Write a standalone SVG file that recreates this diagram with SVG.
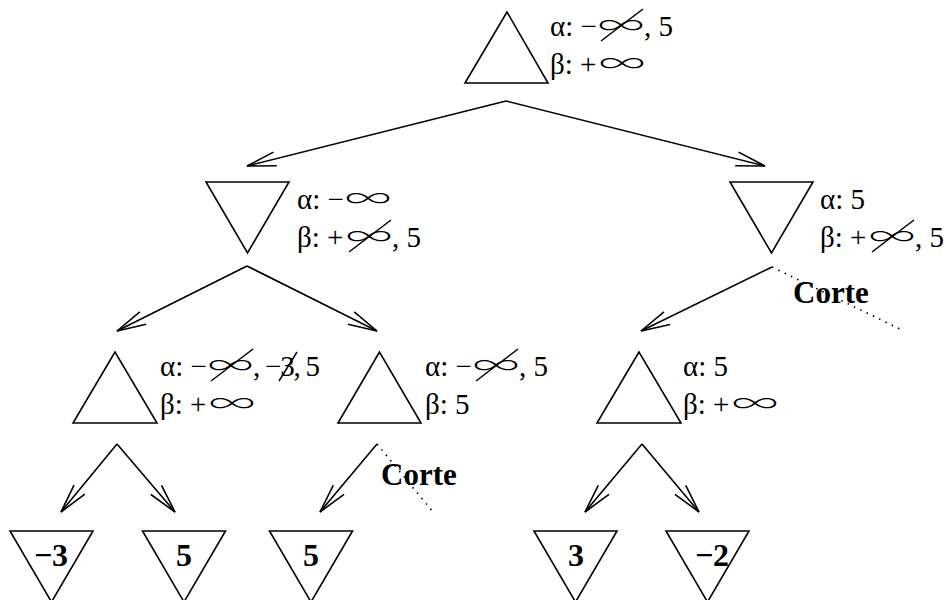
<svg xmlns="http://www.w3.org/2000/svg" width="946" height="600" viewBox="0 0 946 600">
<style>
.tri{fill:none;stroke:#000;stroke-width:1.6;stroke-linejoin:miter}
.lbl{font-family:"Liberation Serif","Times New Roman",serif;font-size:29px;fill:#000}
.inf{font-family:"Noto Sans CJK JP","Noto Sans",sans-serif;font-size:26px;font-weight:300;fill:#000}
.val{font-family:"Liberation Serif","Times New Roman",serif;font-size:32px;font-weight:bold;fill:#000;text-anchor:middle}
.cut{font-family:"Liberation Serif","Times New Roman",serif;font-size:31px;font-weight:bold;fill:#000}
.slash{stroke:#000;stroke-width:1.5}
.edge{fill:none;stroke:#000;stroke-width:1.6;marker-end:url(#ah)}
.dot{fill:none;stroke:#000;stroke-width:1.6;stroke-dasharray:1.5 5.5}
</style>
<defs>
<marker id="ah" markerUnits="userSpaceOnUse" markerWidth="40" markerHeight="20" viewBox="-32 -10 34 20" refX="0" refY="0" orient="auto" overflow="visible">
<path d="M-29,-7 L0,0 L-29,7" fill="none" stroke="#000" stroke-width="1.6"/>
</marker>
</defs>

<g id="connectors">
<line class="edge" x1="506" y1="101" x2="247" y2="166"/>
<line class="edge" x1="506" y1="101" x2="765" y2="166"/>
<line class="edge" x1="247" y1="266" x2="117" y2="331"/>
<line class="edge" x1="247" y1="266" x2="377" y2="331"/>
<line class="edge" x1="772" y1="267" x2="641" y2="331"/>
<line class="edge" x1="117" y1="444" x2="61" y2="512"/>
<line class="edge" x1="117" y1="444" x2="175" y2="512"/>
<line class="edge" x1="377" y1="444" x2="320" y2="512"/>
<line class="edge" x1="642" y1="444" x2="585" y2="512"/>
<line class="edge" x1="642" y1="444" x2="699" y2="512"/>
<line class="dot" x1="772" y1="267" x2="902" y2="330"/>
<line class="dot" x1="377" y1="444" x2="433" y2="512"/>
<text class="cut" x="793" y="303">Corte</text>
<text class="cut" x="381" y="485">Corte</text>
</g>

<g id="root">
<polygon class="tri" points="507,12 465,83 548,83"/>
<text class="lbl" x="550" y="36">α: −</text>
<text class="inf" x="598" y="35" textLength="46" lengthAdjust="spacingAndGlyphs">∞</text>
<text class="lbl" x="644" y="36">, 5</text>
<line class="slash" x1="601" y1="41" x2="643" y2="9"/>
<text class="lbl" x="550" y="74">β: +</text>
<text class="inf" x="599" y="73" textLength="46" lengthAdjust="spacingAndGlyphs">∞</text>
</g>

<g id="min-left">
<polygon class="tri" points="206,182 289,182 247.5,253"/>
<text class="lbl" x="297" y="209">α: −</text>
<text class="inf" x="345" y="208" textLength="46" lengthAdjust="spacingAndGlyphs">∞</text>
<text class="lbl" x="297" y="247">β: +</text>
<text class="inf" x="346" y="246" textLength="46" lengthAdjust="spacingAndGlyphs">∞</text>
<text class="lbl" x="392" y="247">, 5</text>
<line class="slash" x1="349" y1="252" x2="391" y2="220"/>
</g>

<g id="min-right">
<polygon class="tri" points="730,182 813,182 771.5,253"/>
<text class="lbl" x="820" y="209">α: 5</text>
<text class="lbl" x="820" y="247">β: +</text>
<text class="inf" x="869" y="246" textLength="46" lengthAdjust="spacingAndGlyphs">∞</text>
<text class="lbl" x="915" y="247">, 5</text>
<line class="slash" x1="872" y1="252" x2="914" y2="220"/>
</g>

<g id="max-left">
<polygon class="tri" points="115,352 73,423 157,423"/>
<text class="lbl" x="160" y="376">α: −</text>
<text class="inf" x="208" y="375" textLength="45" lengthAdjust="spacingAndGlyphs">∞</text>
<text class="lbl" x="253" y="376" textLength="67" lengthAdjust="spacing">, −3, 5</text>
<line class="slash" x1="211" y1="381" x2="253" y2="349"/>
<line class="slash" x1="279" y1="381" x2="297" y2="352"/>
<text class="lbl" x="160" y="414">β: +</text>
<text class="inf" x="209" y="413" textLength="46" lengthAdjust="spacingAndGlyphs">∞</text>
</g>

<g id="max-mid">
<polygon class="tri" points="379.5,352 338,423 421,423"/>
<text class="lbl" x="425" y="376">α: −</text>
<text class="inf" x="473" y="375" textLength="46" lengthAdjust="spacingAndGlyphs">∞</text>
<text class="lbl" x="519" y="376">, 5</text>
<line class="slash" x1="476" y1="381" x2="518" y2="349"/>
<text class="lbl" x="425" y="414">β: 5</text>
</g>

<g id="max-right">
<polygon class="tri" points="639,352 597,423 681,423"/>
<text class="lbl" x="683" y="376">α: 5</text>
<text class="lbl" x="683" y="414">β: +</text>
<text class="inf" x="732" y="413" textLength="46" lengthAdjust="spacingAndGlyphs">∞</text>
</g>

<g id="leaf-1">
<polygon class="tri" points="10,531 93,531 51.5,602"/>
<text class="val" x="51" y="566">−3</text>
</g>
<g id="leaf-2">
<polygon class="tri" points="142.5,531 225.5,531 184,602"/>
<text class="val" x="184" y="566">5</text>
</g>
<g id="leaf-3">
<polygon class="tri" points="269.5,531 352.5,531 311,602"/>
<text class="val" x="311" y="566">5</text>
</g>
<g id="leaf-4">
<polygon class="tri" points="534,531 617,531 575.5,602"/>
<text class="val" x="576" y="566">3</text>
</g>
<g id="leaf-5">
<polygon class="tri" points="666,531 749,531 707.5,602"/>
<text class="val" x="712" y="566">−2</text>
</g>
</svg>
